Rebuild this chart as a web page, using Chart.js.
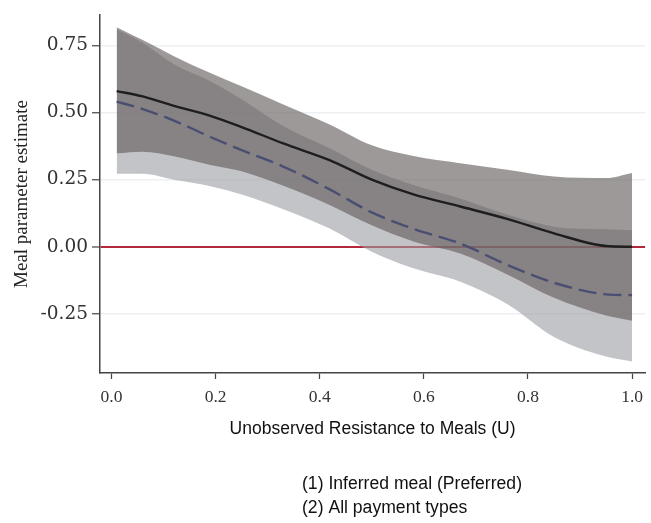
<!DOCTYPE html>
<html>
<head>
<meta charset="utf-8">
<script src="https://cdn.jsdelivr.net/npm/chart.js@4.4.0/dist/chart.umd.min.js"></script>
<style>
  html, body { margin: 0; padding: 0; background: #fff; }
  #wrap { width: 651px; height: 523px; }
</style>
</head>
<body>
<div id="wrap"><canvas id="chart" width="651" height="523"></canvas></div>
<script>
// U grid and estimates
var uValues   = [0.01, 0.06, 0.12, 0.19, 0.25, 0.33, 0.42, 0.50, 0.58, 0.67, 0.76, 0.85, 0.95, 1.00];
var preferred = [0.580, 0.560, 0.525, 0.488, 0.446, 0.385, 0.322, 0.250, 0.195, 0.150, 0.104, 0.050, 0.003, 0.000];
var prefUpper = [0.818, 0.770, 0.710, 0.647, 0.598, 0.530, 0.455, 0.378, 0.338, 0.311, 0.287, 0.262, 0.256, 0.275];
var prefLower = [0.348, 0.354, 0.337, 0.305, 0.281, 0.227, 0.155, 0.080, 0.020, -0.025, -0.103, -0.190, -0.256, -0.275];
var allPay    = [0.541, 0.513, 0.470, 0.409, 0.360, 0.299, 0.213, 0.128, 0.067, 0.012, -0.067, -0.134, -0.177, -0.180];
var allUpper  = [0.810, 0.760, 0.680, 0.617, 0.550, 0.450, 0.366, 0.287, 0.230, 0.180, 0.120, 0.075, 0.065, 0.062];
var allLower  = [0.272, 0.272, 0.250, 0.226, 0.195, 0.140, 0.067, -0.018, -0.080, -0.130, -0.213, -0.336, -0.409, -0.427];

var xTicks = [0, 0.2, 0.4, 0.6, 0.8, 1.0];
var yTicks = [-0.25, 0, 0.25, 0.5, 0.75];
var legendLabels = ['(1) Inferred meal (Preferred)', '(2) All payment types'];

function pts(arr) {
    return arr.map(function(v, i) { return {x: uValues[i], y: v}; });
}

var serif = 'Liberation Serif';
var sans = 'Liberation Sans';

var legendText = {
    id: 'legendText',
    afterDraw: function(chart) {
        var c = chart.ctx;
        c.save();
        c.font = '17.6px "' + sans + '"';
        c.fillStyle = '#111';
        c.textBaseline = 'middle';
        c.textAlign = 'left';
        c.fillText(legendLabels[0], 302, 484);
        c.fillText(legendLabels[1], 302, 508);
        c.restore();
    }
};

var line = {borderWidth: 0, pointRadius: 0, cubicInterpolationMode: 'monotone'};

new Chart(document.getElementById('chart'), {
    type: 'line',
    data: {
        datasets: [
            Object.assign({}, line, {label: 'preferred', data: pts(preferred), borderColor: '#1e1e1e', borderWidth: 2.4, fill: false}),
            Object.assign({}, line, {label: 'all', data: pts(allPay), borderColor: '#4a4f72', borderWidth: 2.4, borderDash: [18, 7], fill: false}),
            Object.assign({}, line, {label: 'prefUpper', data: pts(prefUpper), fill: '+1', backgroundColor: 'rgba(99,94,92,0.63)'}),
            Object.assign({}, line, {label: 'prefLower', data: pts(prefLower), fill: false}),
            Object.assign({}, line, {label: 'allUpper', data: pts(allUpper), fill: '+1', backgroundColor: 'rgba(155,157,163,0.6)'}),
            Object.assign({}, line, {label: 'allLower', data: pts(allLower), fill: false})
        ]
    },
    options: {
        responsive: false,
        animation: false,
        layout: {padding: {top: 9, right: 0, bottom: 80, left: 0}},
        plugins: {legend: {display: false}, tooltip: {enabled: false}},
        scales: {
            x: {
                type: 'linear',
                min: -0.022,
                max: 1.025,
                afterBuildTicks: function(s) { s.ticks = xTicks.map(function(v) { return {value: v}; }); },
                afterFit: function(s) { s.height = 70; },
                ticks: {
                    callback: function(v) { return v.toFixed(1); },
                    font: {family: serif, size: 17.5},
                    color: '#333',
                    padding: 8,
                    autoSkip: false,
                    maxRotation: 0
                },
                grid: {drawOnChartArea: false, tickLength: 6, tickColor: '#444', tickWidth: 1.2},
                border: {display: true, color: '#444', width: 1.5},
                title: {
                    display: true,
                    text: 'Unobserved Resistance to Meals (U)',
                    font: {family: sans, size: 17.5},
                    color: '#111',
                    padding: {top: 0, bottom: 3}
                }
            },
            y: {
                min: -0.47,
                max: 0.863,
                afterBuildTicks: function(s) { s.ticks = yTicks.map(function(v) { return {value: v}; }); },
                afterFit: function(s) { s.width = 100; },
                ticks: {
                    callback: function(v) { return v.toFixed(2); },
                    font: {family: 'DejaVu Serif', size: 18.5},
                    color: '#333',
                    padding: 4
                },
                grid: {
                    color: function(c) { return c.tick && c.tick.value === 0 ? '#b3283b' : '#edf0f3'; },
                    lineWidth: function(c) { return c.tick && c.tick.value === 0 ? 2 : 1.5; },
                    tickLength: 8,
                    tickColor: '#444',
                    tickWidth: 1.2
                },
                border: {display: true, color: '#444', width: 1.5},
                title: {
                    display: true,
                    text: 'Meal parameter estimate',
                    font: {family: serif, size: 19},
                    color: '#222',
                    padding: {top: 11, bottom: 0}
                }
            }
        }
    },
    plugins: [legendText]
});
</script>
</body>
</html>
